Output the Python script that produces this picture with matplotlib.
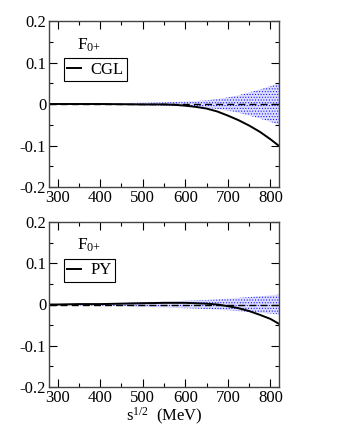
import numpy as np
import matplotlib.pyplot as plt
from matplotlib.ticker import MultipleLocator

plt.rcParams['font.family'] = ['Liberation Serif', 'DejaVu Serif']
plt.rcParams['mathtext.fontset'] = 'stix'
plt.rcParams['hatch.color'] = 'blue'
plt.rcParams['hatch.linewidth'] = 0.4

energy = [280, 300, 350, 400, 450, 500, 550, 575, 600, 625, 650, 675,
          700, 725, 750, 775, 800, 820]

# CGL panel
cgl_curve = [0.0, 0.0, 0.0, 0.0, -0.0005, -0.001, -0.001, -0.002, -0.004,
             -0.007, -0.011, -0.018, -0.028, -0.039, -0.052, -0.067, -0.085, -0.101]
cgl_band = [0.0, 0.0005, 0.001, 0.0015, 0.002, 0.003, 0.004, 0.005, 0.006,
            0.007, 0.009, 0.012, 0.016, 0.021, 0.028, 0.035, 0.043, 0.05]

# PY panel
py_curve = [0.0, 0.0, 0.001, 0.001, 0.002, 0.003, 0.004, 0.004, 0.004,
            0.003, 0.002, 0.0, -0.004, -0.009, -0.016, -0.025, -0.035, -0.047]
py_band = [0.001, 0.0015, 0.002, 0.003, 0.004, 0.006, 0.007, 0.008, 0.009,
           0.010, 0.011, 0.0125, 0.014, 0.016, 0.018, 0.020, 0.022, 0.024]

xticks = [300, 400, 500, 600, 700, 800]
yticks = [-0.2, -0.1, 0.0, 0.1, 0.2]
yticklabels = ['-0.2', '-0.1', '0', '0.1', '0.2']

fig = plt.figure(figsize=(3.38, 4.37), dpi=100)
ax1 = fig.add_axes([49 / 338, 1 - 187 / 437, 230 / 338, 166 / 437])
ax2 = fig.add_axes([49 / 338, 1 - 387 / 437, 230 / 338, 165 / 437])

panels = [(ax1, cgl_curve, cgl_band, 'CGL'), (ax2, py_curve, py_band, 'PY')]
x = np.array(energy)

for ax, curve, band, name in panels:
    band = np.array(band)
    ax.fill_between(x, -band, band, facecolor='#dcdcff', edgecolor='blue',
                    hatch='......', linewidth=0)
    ax.plot(x, np.zeros_like(x), color='black', ls=(0, (5, 3)), lw=1.0)
    line, = ax.plot(x, curve, color='black', lw=1.4)
    ax.set_xlim(280, 820)
    ax.set_ylim(-0.2, 0.2)
    ax.set_xticks(xticks)
    ax.set_yticks(yticks)
    ax.set_yticklabels(yticklabels)
    ax.xaxis.set_minor_locator(MultipleLocator(50))
    ax.yaxis.set_minor_locator(MultipleLocator(0.05))
    ax.tick_params(which='both', direction='in', top=True, right=True,
                   labelsize=12, pad=2)
    ax.tick_params(which='major', length=6, width=0.8)
    ax.tick_params(which='minor', length=3, width=0.8)
    for s in ax.spines.values():
        s.set_linewidth(1.0)
        s.set_color('#444444')
    ax.text(0.122, 0.83, r'$\mathregular{F_{0{+}}}$', transform=ax.transAxes,
            fontsize=12.5, va='baseline')
    leg = ax.legend([line], [name], loc='upper left',
                    bbox_to_anchor=(0.065, 0.775), fontsize=12,
                    handlelength=0.8, handletextpad=0.6, borderpad=0.2,
                    borderaxespad=0, fancybox=False, framealpha=1,
                    edgecolor='black')
    leg.get_frame().set_linewidth(0.8)

ax2.set_xlabel(r'$\mathregular{s^{1/2}}$  (MeV)', fontsize=12, labelpad=0)

fig.savefig('out.png', dpi=100)
